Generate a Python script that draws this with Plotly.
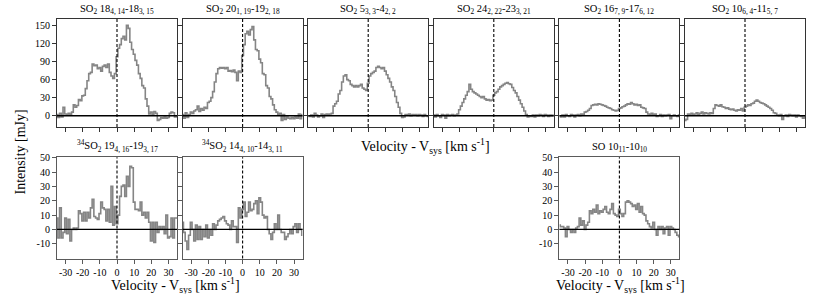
import plotly.graph_objects as go

# ---------------- data ----------------
velocity = list(range(-35, 36))  # km/s, channel centres

so2_18 = [2, -3, 4, -2, 14, 3, 2, 4, 2, 6, 18, 14, 17, 27, 25, 33, 34, 45, 58, 70,
          72, 86, 83, 84, 78, 80, 74, 82, 84, 80, 86, 72, 66, 62, 70, 98, 112, 118, 128, 132,
          126, 150, 145, 122, 110, 102, 92, 84, 70, 62, 50, 46, 28, 16, 3, 6, 2, 7, 4, -8,
          -6, -3, -4, -2, -4, -3, 4, 6, 5, -2, 0]
so2_20 = [2, -4, 5, -3, 2, 6, 4, 8, 10, 16, 7, 12, 9, 14, 12, 22, 24, 30, 40, 56,
          70, 78, 80, 79, 80, 78, 80, 74, 75, 73, 76, 72, 58, 74, 72, 100, 118, 136, 140, 134,
          143, 148, 126, 110, 108, 94, 88, 70, 68, 50, 46, 32, 28, 18, 10, 6, 2, 4, -8, 2,
          -6, -2, -4, -5, -3, -5, -2, -4, 3, -5, 2]
so2_5 = [0, -1, 1, -2, 4, 1, -2, 0, 3, -3, 2, 3, 2, 3, 4, 16, 20, 24, 36, 42,
         56, 66, 68, 60, 58, 52, 50, 48, 50, 48, 50, 52, 46, 44, 42, 54, 66, 70, 72, 74,
         80, 82, 80, 78, 80, 74, 68, 62, 56, 48, 42, 32, 22, 14, 4, -3, -2, 2, 1, 3,
         0, 2, 1, 2, 0, 2, 1, -1, 2, 0, -1]
so2_24 = [1, -2, 2, 0, -3, 2, 1, -4, 2, 0, 1, 2, 0, 1, 3, 10, 16, 22, 28, 34,
          40, 52, 44, 40, 38, 36, 34, 32, 30, 32, 28, 26, 27, 25, 26, 34, 38, 40, 44, 48,
          50, 52, 54, 55, 53, 52, 47, 42, 38, 32, 26, 20, 14, 8, 2, -2, 0, -1, 1, -2,
          1, 0, 2, 1, -1, 2, 1, -1, 1, 0, 1]
so2_16 = [0, -2, 1, -2, 2, 0, -1, 2, 1, -2, 1, 2, 0, 3, 2, 6, 7, 9, 12, 17,
          18, 19, 18, 20, 19, 18, 17, 16, 14, 13, 12, 10, 9, 8, 9, 12, 13, 15, 16, 18,
          20, 19, 22, 20, 18, 19, 17, 18, 14, 13, 12, 6, 3, 2, 4, 1, 3, -1, 0, 2,
          -1, 1, 0, 1, 2, -5, 0, 1, 0, -1, 1]
so2_10 = [-8, -6, 3, 2, 4, 2, 3, 5, 2, 4, 6, 3, 5, 4, 3, 5, 4, 12, 18, 17,
          16, 18, 15, 14, 12, 13, 11, 10, 11, 9, 8, 10, 9, 12, 8, 14, 16, 18, 17, 20,
          21, 24, 26, 24, 22, 21, 20, 18, 16, 14, 12, 9, 5, 4, 1, 0, 2, -6, 0, 1,
          -1, 2, 1, 0, 1, -2, 1, 0, -1, -4, -2]
s34o2_19 = [8, -6, 15, -6, -2, 8, -3, 7, -8, 0, 1, 0, 1, 13, 11, 6, 12, 6, 12, 8,
            15, 21, 9, 8, 7, 11, 19, 15, 14, 6, 14, 5, 30, 3, 16, 4, 10, 23, 30, 31,
            23, 37, 30, 44, 43, 19, 14, 14, 13, 19, 10, 12, 8, 12, 5, -8, 5, -9, 5, -2,
            2, 0, 2, -3, 10, -6, -5, 8, -6, 8, 8]
s34o2_14 = [5, -2, -8, -14, -4, 5, 0, -8, 3, -7, 2, -7, 0, -5, 3, -6, 0, -4, 4, 0,
            3, 6, 7, 8, 9, 6, 4, 3, 0, 6, 2, 2, -9, 15, 8, 14, 19, 9, 12, 19,
            13, 14, 18, 20, 11, 22, 19, 10, 8, 9, 0, -3, -7, -2, 4, 0, 10, 0, -2, -2,
            -7, -5, -3, 0, -3, 2, 4, -2, 4, 0, -4]
so_10 = [3, 2, 2, 1, -5, 2, 0, -2, 0, -2, 1, 2, 8, 3, 6, 0, 3, 5, 13, 11,
         14, 12, 17, 11, 13, 12, 14, 16, 12, 11, 14, 18, 11, 10, 9, 14, 11, 9, 11, 19,
         20, 19, 18, 16, 17, 14, 18, 12, 16, 11, 10, 6, 4, 2, 1, 5, 0, -4, 2, 0,
         2, -3, 1, 2, -4, 2, 1, 0, -2, -4, -5]

titles = [
    "SO<sub>2</sub> 18<sub>4, 14</sub>-18<sub>3, 15</sub>",
    "SO<sub>2</sub> 20<sub>1, 19</sub>-19<sub>2, 18</sub>",
    "SO<sub>2</sub> 5<sub>3, 3</sub>-4<sub>2, 2</sub>",
    "SO<sub>2</sub> 24<sub>2, 22</sub>-23<sub>3, 21</sub>",
    "SO<sub>2</sub> 16<sub>7, 9</sub>-17<sub>6, 12</sub>",
    "SO<sub>2</sub> 10<sub>6, 4</sub>-11<sub>5, 7</sub>",
    "<sup>34</sup>SO<sub>2</sub> 19<sub>4, 16</sub>-19<sub>3, 17</sub>",
    "<sup>34</sup>SO<sub>2</sub> 14<sub>4, 10</sub>-14<sub>3, 11</sub>",
    "SO 10<sub>11</sub>-10<sub>10</sub>",
]
series = [so2_18, so2_20, so2_5, so2_24, so2_16, so2_10, s34o2_19, s34o2_14, so_10]

x_ticks = [-30, -20, -10, 0, 10, 20, 30]
x_ticktext = ["-30", "-20", "-10", "0", "10", "20", "30"]
y_ticks_top = [0, 30, 60, 90, 120, 150]
y_ticktext_top = ["0", "30", "60", "90", "120", "150"]
y_ticks_bot = [-10, 0, 10, 20, 30, 40, 50]
y_ticktext_bot = ["-10", "0", "10", "20", "30", "40", "50"]

# ---------------- layout geometry (page pixels) ----------------
W, H = 822, 294
col_left = [57, 182.6, 308.2, 433.8, 559.4, 685]
PW = 120
row_span = {0: (14, 124), 1: (155, 258)}
panels = [(0, 0), (0, 1), (0, 2), (0, 3), (0, 4), (0, 5), (1, 0), (1, 1), (1, 4)]


def fx(px):
    return px / W


def fy(py):
    return (H - py) / H


FONT = "Liberation Serif, Times New Roman, serif"

fig = go.Figure()
layout = dict(
    width=W, height=H,
    margin=dict(l=0, r=0, t=0, b=0),
    paper_bgcolor="white", plot_bgcolor="white",
    showlegend=False,
    font=dict(family=FONT, size=10, color="black"),
)
shapes = []
annotations = []

for i, ((r, c), ys, title) in enumerate(zip(panels, series, titles)):
    k = i + 1
    xa = "x" if k == 1 else f"x{k}"
    ya = "y" if k == 1 else f"y{k}"
    l = col_left[c]
    top, bot = row_span[r]
    frame = "#333333" if r == 0 else "#5a5a5a"

    fig.add_trace(go.Scatter(
        x=velocity, y=ys, mode="lines", line_shape="hvh",
        line=dict(color="#858585", width=1.6),
        xaxis=xa, yaxis=ya, hoverinfo="skip"))

    show_xlab = (r == 1)
    show_ylab = (c == 0) or (r == 1 and c == 4)
    layout["xaxis" if k == 1 else f"xaxis{k}"] = dict(
        domain=[fx(l), fx(l + PW)], anchor=ya, range=[-35, 35],
        tickvals=x_ticks, ticktext=x_ticktext,
        ticks="outside", ticklen=4, tickcolor=frame, tickangle=0,
        showticklabels=show_xlab, showgrid=False, zeroline=False,
        showline=True, mirror=True, linecolor=frame, linewidth=1.2,
        tickfont=dict(family=FONT, size=10, color="black"))
    layout["yaxis" if k == 1 else f"yaxis{k}"] = dict(
        domain=[fy(bot), fy(top)], anchor=xa,
        range=[-18.5, 161] if r == 0 else [-20.3, 50.2],
        tickvals=y_ticks_top if r == 0 else y_ticks_bot,
        ticktext=y_ticktext_top if r == 0 else y_ticktext_bot,
        ticks="outside", ticklen=4, tickcolor=frame,
        showticklabels=show_ylab, showgrid=False, zeroline=False,
        showline=True, mirror=True, linecolor=frame, linewidth=1.2,
        tickfont=dict(family=FONT, size=10, color="black"))

    # zero line and systemic-velocity marker
    shapes.append(dict(type="line", xref=f"{xa} domain", yref=ya,
                       x0=0, x1=1, y0=0, y1=0,
                       line=dict(color="black", width=1.3)))
    shapes.append(dict(type="line", xref=xa, yref=f"{ya} domain",
                       x0=0, x1=0, y0=0, y1=1,
                       line=dict(color="black", width=1.1, dash="3px,2px")))

    annotations.append(dict(
        text=title, xref="paper", yref="paper",
        x=fx(l + PW / 2), y=fy(top - 1),
        xanchor="center", yanchor="bottom", showarrow=False,
        font=dict(family=FONT, size=10.5, color="black")))

vel_title = "Velocity - V<sub>sys</sub> [km s<sup>-1</sup>]"
for (cx, cy) in [(425, 143), (175, 284.5), (620, 284.5)]:
    annotations.append(dict(
        text=vel_title, xref="paper", yref="paper",
        x=fx(cx), y=fy(cy), xanchor="center", yanchor="middle",
        showarrow=False, font=dict(family=FONT, size=14, color="black")))

annotations.append(dict(
    text="Intensity [mJy]", xref="paper", yref="paper",
    x=fx(20), y=fy(150), xanchor="center", yanchor="middle",
    textangle=-90, showarrow=False,
    font=dict(family=FONT, size=14, color="black")))

layout["shapes"] = shapes
layout["annotations"] = annotations
fig.update_layout(**layout)

fig.write_html(
    "out.html",
    config={"displayModeBar": False},
    post_script="document.body.style.margin='0';document.body.style.padding='0';",
)
